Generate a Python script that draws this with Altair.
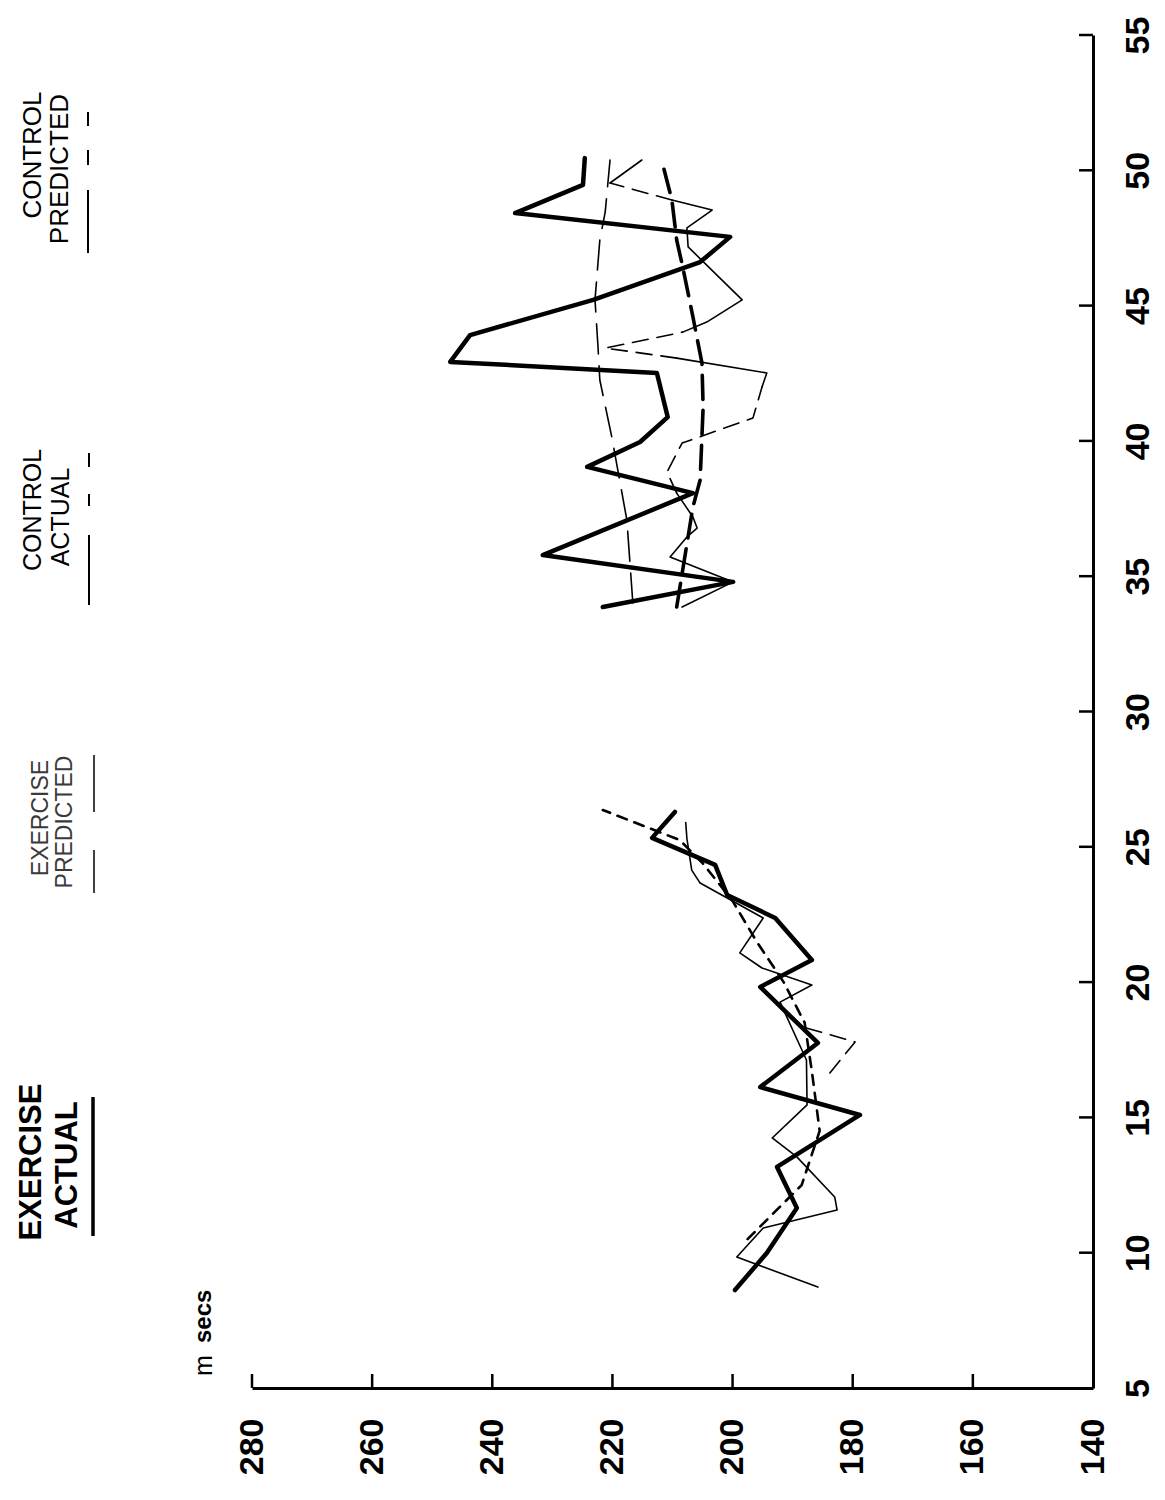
import altair as alt
import pandas as pd

# ---------------- data ----------------
# axis ticks
ms_ticks = [140, 160, 180, 200, 220, 240, 260, 280]
day_ticks = [5, 10, 15, 20, 25, 30, 35, 40, 45, 50, 55]

# Exercise group
ex_thick_day = [8.62, 9.99, 11.65, 13.17, 15.09, 16.12, 17.75, 19.82, 20.82, 22.37, 23.22, 24.33, 25.33, 26.29]
ex_thick_ms = [199.6, 194.3, 189.3, 192.6, 178.8, 195.4, 185.8, 195.4, 186.8, 192.9, 200.9, 202.9, 213.4, 209.6]

ex_thin_day = [8.73, 9.84, 10.91, 11.58, 12.06, 13.54, 14.24, 15.46, 17.12, 19.26, 19.89, 20.52, 21.08, 22.37, 23.66, 24.14, 25.3, 25.9]
ex_thin_ms = [185.8, 199.3, 194.9, 182.6, 183.0, 189.3, 193.4, 187.6, 187.7, 192.1, 186.8, 195.1, 198.8, 194.9, 205.4, 206.8, 207.6, 207.8]

ex_dash_day = [10.5, 12.5, 14.5, 16.7, 18.5, 20.0, 21.5, 23.0, 24.4, 25.25, 26.36]
ex_dash_ms = [197.5, 188.5, 185.5, 186.8, 188.0, 191.5, 196.0, 200.0, 205.0, 208.8, 221.6]

ex_thindash_day = [16.64, 17.79, 18.34]
ex_thindash_ms = [183.8, 179.6, 188.3]

# Control group
c_thick_day = [33.86, 34.79, 35.78, 38.07, 39.04, 39.96, 40.88, 42.51, 42.92, 43.91, 45.21, 46.61, 47.54, 48.42, 49.46, 50.45]
c_thick_ms = [221.6, 199.9, 231.6, 206.6, 224.2, 215.4, 210.8, 212.6, 247.0, 243.7, 223.2, 205.4, 200.4, 236.2, 224.9, 224.6]

c_longdash_day = [34.01, 37.08, 40.14, 42.25, 43.47, 45.21, 47.42, 48.46, 50.38]
c_longdash_ms = [216.6, 217.6, 220.1, 222.1, 222.4, 222.9, 222.1, 221.2, 220.4]

c_thickdash_day = [33.86, 37.56, 38.55, 41.25, 42.88, 44.58, 46.43, 47.42, 48.90, 50.20]
c_thickdash_ms = [209.3, 206.6, 205.4, 204.9, 205.1, 206.6, 208.3, 209.3, 210.1, 211.6]

c_thin_day = [33.86, 34.79, 35.71, 36.45, 36.78, 37.19, 38.07, 38.85, 39.92, 40.85, 41.99, 42.51,
              43.06, 43.43, 44.02, 44.39, 45.21, 47.17, 47.87, 48.53, 48.90, 49.53, 50.38]
c_thin_ms = [208.4, 199.9, 210.4, 207.6, 205.9, 206.6, 209.3, 210.9, 208.4, 196.6, 195.1, 194.3,
             209.3, 221.2, 208.3, 204.3, 198.4, 207.4, 207.6, 203.4, 210.1, 220.4, 215.1]
# pieces of the thin control trace (start index, end index, style)
c_thin_pieces = [(0, 6, "thin"), (6, 10, "thindash"), (10, 12, "thin"), (12, 14, "thindash"),
                 (14, 20, "thin"), (20, 21, "thindash"), (21, 22, "thin")]

# ---------------- build table ----------------
rows = []


def add(gid, style, days, ms):
    for i, (d, m) in enumerate(zip(days, ms)):
        rows.append({"gid": gid, "style": style, "idx": i, "day": d, "ms": m})


add("ex_thick", "thick", ex_thick_day, ex_thick_ms)
add("ex_thin", "thin", ex_thin_day, ex_thin_ms)
add("ex_dash", "meddash", ex_dash_day, ex_dash_ms)
add("ex_thindash", "thindash", ex_thindash_day, ex_thindash_ms)
add("c_thick", "thick", c_thick_day, c_thick_ms)
add("c_longdash", "longdash", c_longdash_day, c_longdash_ms)
add("c_thickdash", "thickdash", c_thickdash_day, c_thickdash_ms)
for k, (a, b, st) in enumerate(c_thin_pieces):
    add(f"c_thin_{k}", st, c_thin_day[a:b + 1], c_thin_ms[a:b + 1])

df = pd.DataFrame(rows)

W, H = 841, 1353
FONT = "Liberation Sans"

xscale = alt.Scale(domain=[140, 280], reverse=True, nice=False, zero=False)
yscale = alt.Scale(domain=[5, 55], nice=False, zero=False)

xaxis = alt.Axis(values=ms_ticks, labelAngle=270, labelAlign="right", labelBaseline="middle",
                 labelPadding=30, ticks=False, tickSize=0, grid=False, title=None,
                 domainColor="black", domainWidth=3, labelFont=FONT, labelFontSize=34,
                 labelFontWeight="bold", labelColor="black", orient="bottom", labelOverlap=False)
yaxis = alt.Axis(values=day_ticks, labelAngle=270, labelAlign="center", labelBaseline="top",
                 labelPadding=28, ticks=False, tickSize=0, grid=False, title=None,
                 domainColor="black", domainWidth=3, labelFont=FONT, labelFontSize=34,
                 labelFontWeight="bold", labelColor="black", orient="right", labelOverlap=False)

styles = {
    "thick": dict(strokeWidth=4.5),
    "thin": dict(strokeWidth=1.6),
    "meddash": dict(strokeWidth=2.6, strokeDash=[10, 8]),
    "thindash": dict(strokeWidth=1.6, strokeDash=[16, 9]),
    "longdash": dict(strokeWidth=1.6, strokeDash=[30, 12]),
    "thickdash": dict(strokeWidth=3.6, strokeDash=[24, 11]),
}

X = alt.X("ms:Q", scale=xscale, axis=xaxis)
Y = alt.Y("day:Q", scale=yscale, axis=yaxis)

base = alt.Chart(df)
layers = []
for st, props in styles.items():
    layer = base.transform_filter(alt.datum.style == st).mark_line(
        color="black", strokeCap="round", strokeJoin="round", **props
    ).encode(x=X, y=Y, detail="gid:N", order="idx:Q")
    layers.append(layer)

# inward tick marks
xt = alt.Chart(pd.DataFrame({"ms": ms_ticks[1:]})).mark_rule(color="black", strokeWidth=2.5).encode(
    x=X, y=alt.value(H), y2=alt.value(H - 14))
yt = alt.Chart(pd.DataFrame({"day": day_ticks[1:]})).mark_rule(color="black", strokeWidth=2.5).encode(
    y=Y, x=alt.value(W), x2=alt.value(W - 14))
layers += [xt, yt]

one = pd.DataFrame({"a": [0]})


def txt(s, x, y, size, weight="normal", color="black", align="center"):
    return alt.Chart(one).mark_text(angle=270, align=align, baseline="middle", font=FONT,
                                    fontSize=size, fontWeight=weight, color=color).encode(
        x=alt.value(x), y=alt.value(y), text=alt.value(s))


def uline(x, y1, y2, width, dash=None):
    kw = dict(color="black", strokeWidth=width)
    if dash:
        kw["strokeDash"] = dash
    return alt.Chart(one).mark_rule(**kw).encode(x=alt.value(x), y=alt.value(y1), y2=alt.value(y2))


# legend texts (page position minus plot origin 252,35)
layers += [
    txt("EXERCISE", -220, 1127, 31, "bold"),
    txt("ACTUAL", -184, 1130, 31, "bold"),
    uline(-159, 1062, 1201, 3.5),
    txt("EXERCISE", -211, 783, 23, "normal", "#3a3a3a"),
    txt("PREDICTED", -187, 787, 23, "normal", "#3a3a3a"),
    uline(-158, 720, 777, 1.5),
    uline(-158, 815, 858, 1.5),
    txt("CONTROL", -219, 475, 25),
    txt("ACTUAL", -191, 482, 25),
    uline(-163, 500, 570, 2),
    uline(-163, 459, 471, 2),
    uline(-163, 418, 432, 2),
    txt("CONTROL", -219, 120, 26),
    txt("PREDICTED", -192, 134, 26),
    uline(-164, 155, 218, 2),
    uline(-164, 115, 130, 2),
    uline(-164, 77, 91, 2),
    txt("m", -48, 1341, 25, "normal", align="left"),
    txt("secs", -48, 1308, 24, "bold", align="left"),
]

chart = alt.layer(*layers).properties(
    width=W, height=H,
    autosize=alt.AutoSizeParams(type="none"),
    padding={"left": 244, "top": 27, "right": 64, "bottom": 100},
    background="white",
).configure_view(strokeWidth=0)

chart.save("out.html", embed_options={"renderer": "svg", "actions": False})
